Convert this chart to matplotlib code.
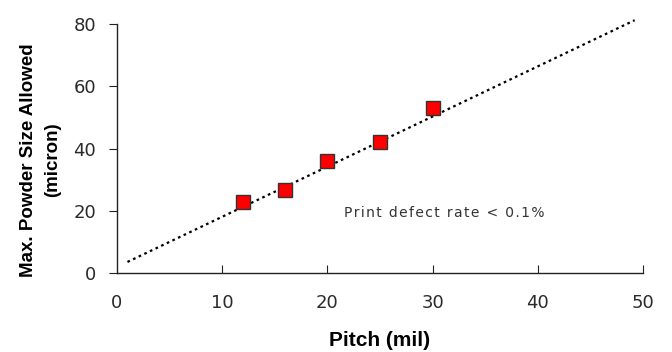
import matplotlib
matplotlib.use("Agg")
import matplotlib.pyplot as plt
import numpy as np

plt.rcParams['font.family'] = ['Liberation Sans', 'DejaVu Sans']

pitch = [12, 16, 20, 25, 30]
powder = [22.8, 26.7, 36.0, 42.1, 53.0]
fit_x = [1.0, 49.2]
fit_y = [3.6, 81.2]
xticks = [0, 10, 20, 30, 40, 50]
yticks = [0, 20, 40, 60, 80]

fig = plt.figure(figsize=(6.72, 3.52), dpi=100)
ax = fig.add_axes([0.174, 0.224, 0.783, 0.708])

ax.plot(fit_x, fit_y, linestyle=(0, (1.2, 1.6)), color='black', linewidth=1.6, clip_on=False, zorder=2)
ax.plot(pitch, powder, linestyle='none', marker='s', markersize=10.5,
        markerfacecolor='#ff0000', markeredgecolor='#333333', markeredgewidth=1.0, zorder=3)

ax.set_xlim(0, 50)
ax.set_ylim(0, 80)
ax.set_xticks(xticks)
ax.set_yticks(yticks)
for s in ['top', 'right']:
    ax.spines[s].set_visible(False)
for s in ['left', 'bottom']:
    ax.spines[s].set_color('#222222')
    ax.spines[s].set_linewidth(1.0)

ax.tick_params(axis='x', direction='in', length=6, pad=15, labelsize=13, colors='#222222', labelcolor='#2a2a2a')
ax.tick_params(axis='y', direction='out', length=6, pad=9, labelsize=13, colors='#222222', labelcolor='#2a2a2a')
for lab in ax.get_xticklabels() + ax.get_yticklabels():
    lab.set_family('DejaVu Sans')
ax.xaxis.get_major_ticks()[0].tick1line.set_visible(False)

ax.set_xlabel('Pitch (mil)', fontsize=15, fontweight='bold', labelpad=14)
ax.set_ylabel('Max. Powder Size Allowed\n(micron)', fontsize=13.5, fontweight='bold', linespacing=1.5)
ax.yaxis.set_label_coords(-0.107, 0.455)

note = 'Print defect rate < 0.1%'
ax.text(21.6, 19.3, '\u200a'.join(note), family='DejaVu Sans',
        fontsize=10, color='#333333', va='center', ha='left')

fig.savefig('out.png', dpi=100)
